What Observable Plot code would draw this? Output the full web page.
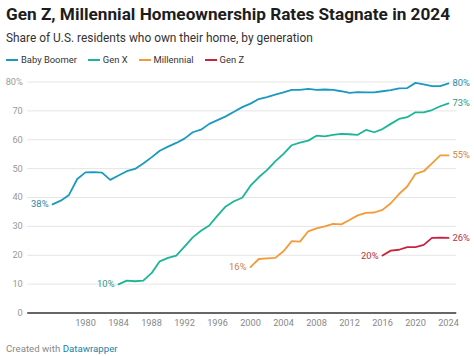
<!DOCTYPE html>
<html>
<head>
<meta charset="utf-8">
<script src="https://cdn.jsdelivr.net/npm/d3@7"></script>
<script src="https://cdn.jsdelivr.net/npm/@observablehq/plot@0.6"></script>
<style>
  html, body { margin: 0; padding: 0; background: #fff; }
  body { width: 474px; height: 356px; position: relative; overflow: hidden; font-family: Roboto, "Noto Sans", sans-serif; }
  #title { position: absolute; left: 6px; top: 4px; font-size: 17.2px; font-weight: 700; color: #1d1d1d; white-space: nowrap; }
  #subtitle { position: absolute; left: 6px; top: 31px; font-size: 11.9px; color: #333; white-space: nowrap; }
  #legend { position: absolute; left: 6px; top: 54px; font-size: 9.4px; color: #333; white-space: nowrap; display: flex; align-items: center; }
  .item { display: flex; align-items: center; margin-right: 11px; }
  .sw { width: 12px; height: 2px; margin-right: 3px; }
  #chart { position: absolute; left: 0; top: 70px; }
  #footer { position: absolute; left: 6px; top: 343px; font-size: 9.7px; color: #888; white-space: nowrap; }
  #footer span { color: #1d81a2; }
</style>
</head>
<body>
<div id="title">Gen Z, Millennial Homeownership Rates Stagnate in 2024</div>
<div id="subtitle">Share of U.S. residents who own their home, by generation</div>
<div id="legend"></div>
<div id="chart"></div>
<div id="footer">Created with <span>Datawrapper</span></div>
<script>
// ---- Data ----
const seriesNames = ["Baby Boomer", "Gen X", "Millennial", "Gen Z"];

const boomerYears = [1976,1977,1978,1979,1980,1981,1982,1983,1984,1985,1986,1987,1988,1989,1990,1991,1992,1993,1994,1995,1996,1997,1998,1999,2000,2001,2002,2003,2004,2005,2006,2007,2008,2009,2010,2011,2012,2013,2014,2015,2016,2017,2018,2019,2020,2021,2022,2023,2024];
const boomerValues = [37.6,38.9,40.9,46.4,48.7,48.8,48.6,46.1,47.6,49.1,49.9,51.8,53.9,56.2,57.6,58.9,60.4,62.6,63.5,65.5,66.8,68.1,69.7,71.3,72.5,74.1,74.8,75.6,76.4,77.3,77.3,77.6,77.3,77.4,77.3,76.8,76.2,76.5,76.4,76.4,76.8,77.2,77.8,77.9,79.7,79.2,78.6,78.6,79.5];

const genXYears = [1984,1985,1986,1987,1988,1989,1990,1991,1992,1993,1994,1995,1996,1997,1998,1999,2000,2001,2002,2003,2004,2005,2006,2007,2008,2009,2010,2011,2012,2013,2014,2015,2016,2017,2018,2019,2020,2021,2022,2023,2024];
const genXValues = [9.9,11.2,11.0,11.2,13.8,17.9,19.1,19.9,23.0,26.2,28.5,30.3,33.7,36.9,38.7,39.9,44.1,47.0,49.5,52.5,55.1,58.1,59.0,59.7,61.4,61.2,61.7,62.0,61.9,61.7,63.4,62.6,63.7,65.5,67.2,67.8,69.5,69.5,70.3,71.6,72.6];

const millYears = [2000,2001,2002,2003,2004,2005,2006,2007,2008,2009,2010,2011,2012,2013,2014,2015,2016,2017,2018,2019,2020,2021,2022,2023,2024];
const millValues = [15.9,18.7,18.9,19.1,21.4,24.9,24.7,28.3,29.3,30.0,30.9,30.7,32.2,33.8,34.7,34.8,35.7,38.0,41.2,43.8,48.2,49.1,51.8,54.6,54.6];

const genZYears = [2016,2017,2018,2019,2020,2021,2022,2023,2024];
const genZValues = [19.9,21.6,21.9,22.8,22.8,23.6,26.0,26.1,26.0];

const yTicks = [0,10,20,30,40,50,60,70,80];
const xTicks = [1980,1984,1988,1992,1996,2000,2004,2008,2012,2016,2020,2024];

const lineColors = ["#1a9abf", "#1db597", "#f39b39", "#c9233e"];
const labelColors = ["#2f87a3", "#2f9683", "#d0803c", "#b8303f"];

// ---- Build table ----
const rows = [];
const pairs = [[boomerYears, boomerValues], [genXYears, genXValues], [millYears, millValues], [genZYears, genZValues]];
pairs.forEach(([ys, vs], i) => ys.forEach((y, j) => rows.push({series: seriesNames[i], year: y, value: vs[j]})));
const firsts = seriesNames.map(s => rows.find(r => r.series === s));
const lasts = seriesNames.map(s => rows.filter(r => r.series === s).at(-1));
const fmtPct = d => Math.round(d.value) + "%";

// legend
const legend = document.getElementById("legend");
seriesNames.forEach((s, i) => {
  const it = document.createElement("div");
  it.className = "item";
  it.innerHTML = `<div class="sw" style="background:${lineColors[i]}"></div><div>${s}</div>`;
  legend.appendChild(it);
});

const colorScale = {domain: seriesNames, range: lineColors};

const chart = Plot.plot({
  width: 474,
  height: 265,
  marginTop: 11.5,
  marginBottom: 22.5,
  marginLeft: 27.25,
  marginRight: 17.75,
  style: {fontFamily: "Roboto, sans-serif", fontSize: "9.2px", background: "transparent", overflow: "visible"},
  x: {domain: [1973, 2025]},
  y: {domain: [0, 80]},
  color: colorScale,
  marks: [
    Plot.ruleY(yTicks.filter(t => t > 0), {stroke: "#e5e5e5", strokeWidth: 1}),
    Plot.axisY({ticks: yTicks, tickSize: 0, tickPadding: 5, tickFormat: d => d === 80 ? "80%" : String(d), fill: "#999", fontSize: 9.2, label: null}),
    Plot.axisX({ticks: xTicks, tickSize: 0, tickPadding: 6.5, tickFormat: d => String(d), fill: "#888", fontSize: 9.2, label: null}),
    Plot.ruleY([0], {stroke: "#333", strokeWidth: 1.6}),
    Plot.line(rows, {x: "year", y: "value", z: "series", stroke: "series", strokeWidth: 1.8, curve: "linear"}),
    Plot.text(firsts, {x: "year", y: "value", text: fmtPct, textAnchor: "end", dx: -4, fill: d => labelColors[seriesNames.indexOf(d.series)], fontSize: 9.4}),
    Plot.text(lasts, {x: "year", y: "value", text: fmtPct, textAnchor: "start", dx: 4, fill: d => labelColors[seriesNames.indexOf(d.series)], fontSize: 9.4})
  ]
});
document.getElementById("chart").appendChild(chart);
</script>
</body>
</html>
